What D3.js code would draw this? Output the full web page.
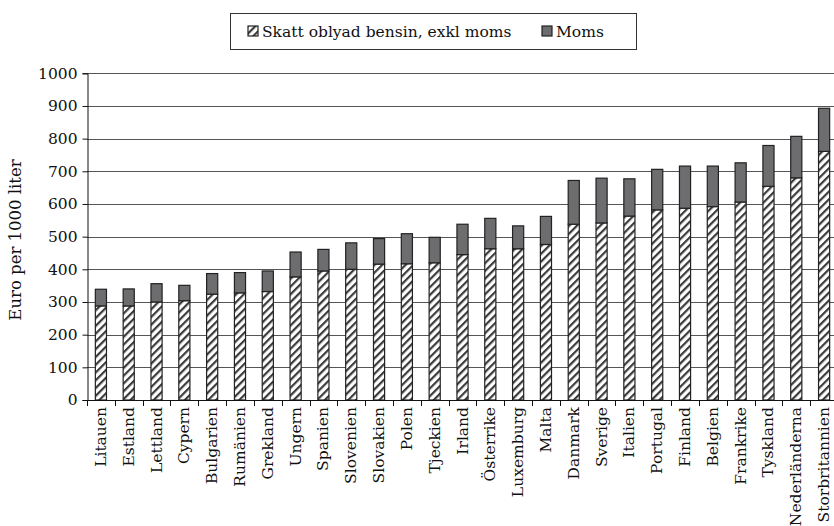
<!DOCTYPE html>
<html>
<head>
<meta charset="utf-8">
<script src="https://cdn.jsdelivr.net/npm/d3@7"></script>
<style>
  html, body { margin: 0; padding: 0; background: #fff; }
  svg { display: block; }
  text { font-family: "DejaVu Serif", "Liberation Serif", serif; fill: #111; }
</style>
</head>
<body>
<svg id="chart" width="834" height="526"></svg>
<script>
// Bensinskatt per land, euro per 1000 liter
const categories = ["Litauen", "Estland", "Lettland", "Cypern", "Bulgarien", "Rumänien", "Grekland",
  "Ungern", "Spanien", "Slovenien", "Slovakien", "Polen", "Tjeckien", "Irland", "Österrike",
  "Luxemburg", "Malta", "Danmark", "Sverige", "Italien", "Portugal", "Finland", "Belgien",
  "Frankrike", "Tyskland", "Nederländerna", "Storbritannien"];
const skatt = [288, 288, 300, 304, 324, 328, 332, 377, 395, 400, 416, 417, 420, 445, 463,
  463, 476, 538, 542, 563, 582, 587, 592, 606, 654, 680, 761];
const moms = [51, 52, 56, 47, 63, 62, 63, 76, 66, 81, 78, 92, 78, 93, 93,
  70, 86, 134, 137, 114, 124, 129, 124, 120, 125, 127, 132];
const seriesNames = ["Skatt oblyad bensin, exkl moms", "Moms"];
const yTicks = [0, 100, 200, 300, 400, 500, 600, 700, 800, 900, 1000];

const svg = d3.select("#chart");
const W = 834;
const plotLeft = 87, plotRight = 838, plotBottom = 400, plotTop = 73.3;

// Diagonal hatch used for the tax series
const defs = svg.append("defs");
const pat = defs.append("pattern")
  .attr("id", "hatch")
  .attr("patternUnits", "userSpaceOnUse")
  .attr("width", 5.5).attr("height", 5.5)
  .attr("patternTransform", "rotate(45)");
pat.append("rect").attr("width", 5.5).attr("height", 5.5).attr("fill", "#fff");
pat.append("rect").attr("x", 0).attr("width", 2.2).attr("height", 5.5).attr("fill", "#3a3a3a");

const x = d3.scaleBand().domain(categories).range([plotLeft, plotRight]).paddingInner(0.6).paddingOuter(0.3);
const y = d3.scaleLinear().domain([0, 1000]).range([plotBottom, plotTop]);

// Gridlines
svg.append("g").selectAll("line").data(yTicks.filter(t => t > 0)).join("line")
  .attr("x1", plotLeft).attr("x2", W)
  .attr("y1", d => Math.round(y(d)) + 0.5).attr("y2", d => Math.round(y(d)) + 0.5)
  .attr("stroke", "#555").attr("stroke-width", 1);

// Stacked bars
const rows = categories.map((c, i) => ({ land: c, skatt: skatt[i], moms: moms[i] }));
const stacked = d3.stack().keys(["skatt", "moms"])(rows);
const fills = ["url(#hatch)", "#6d6d70"];
svg.append("g").selectAll("g").data(stacked).join("g")
  .attr("fill", (d, i) => fills[i])
  .selectAll("rect").data(d => d).join("rect")
  .attr("x", d => x(d.data.land))
  .attr("width", x.bandwidth())
  .attr("y", d => y(d[1]))
  .attr("height", d => y(d[0]) - y(d[1]))
  .attr("stroke", "#222").attr("stroke-width", 1.2);

// Y axis
const yAxis = d3.axisLeft(y).tickValues(yTicks).tickSize(5).tickPadding(5).tickFormat(d3.format("d"));
const gy = svg.append("g").attr("transform", `translate(${plotLeft + 0.5},0)`).call(yAxis);
gy.select(".domain").attr("stroke", "#111");
gy.selectAll(".tick line").attr("stroke", "#111");
gy.selectAll(".tick text").style("font-size", "15.5px").attr("fill", "#111");

// X axis with ticks on band boundaries
svg.append("line").attr("x1", plotLeft).attr("x2", W)
  .attr("y1", plotBottom + 0.5).attr("y2", plotBottom + 0.5).attr("stroke", "#111");
const bounds = d3.range(categories.length + 1)
  .map(i => plotLeft + i * (plotRight - plotLeft) / categories.length);
svg.append("g").selectAll("line").data(bounds).join("line")
  .attr("x1", d => Math.round(d) + 0.5).attr("x2", d => Math.round(d) + 0.5)
  .attr("y1", plotBottom).attr("y2", plotBottom + 6).attr("stroke", "#111");

svg.append("g").selectAll("text").data(categories).join("text")
  .attr("transform", d => `translate(${x(d) + x.bandwidth() / 2},${plotBottom + 7}) rotate(-90)`)
  .attr("text-anchor", "end")
  .attr("dominant-baseline", "central")
  .style("font-size", "15.5px")
  .text(d => d);

// Y axis title
svg.append("text")
  .attr("transform", "translate(15,240) rotate(-90)")
  .attr("text-anchor", "middle")
  .attr("dominant-baseline", "central")
  .style("font-size", "16.5px")
  .text("Euro per 1000 liter");

// Legend
const lg = svg.append("g");
lg.append("rect").attr("x", 230.5).attr("y", 13.5).attr("width", 406).attr("height", 36)
  .attr("fill", "#fff").attr("stroke", "#333").attr("stroke-width", 1);
const legendItems = [
  { name: seriesNames[0], fill: "url(#hatch)", x: 248 },
  { name: seriesNames[1], fill: "#6d6d70", x: 542 }
];
legendItems.forEach(it => {
  lg.append("rect").attr("x", it.x).attr("y", 26).attr("width", 10).attr("height", 10)
    .attr("fill", it.fill).attr("stroke", "#222").attr("stroke-width", 1.2);
  lg.append("text").attr("x", it.x + 14).attr("y", 31.5)
    .attr("dominant-baseline", "central")
    .style("font-size", "15.5px").text(it.name);
});
</script>
</body>
</html>
